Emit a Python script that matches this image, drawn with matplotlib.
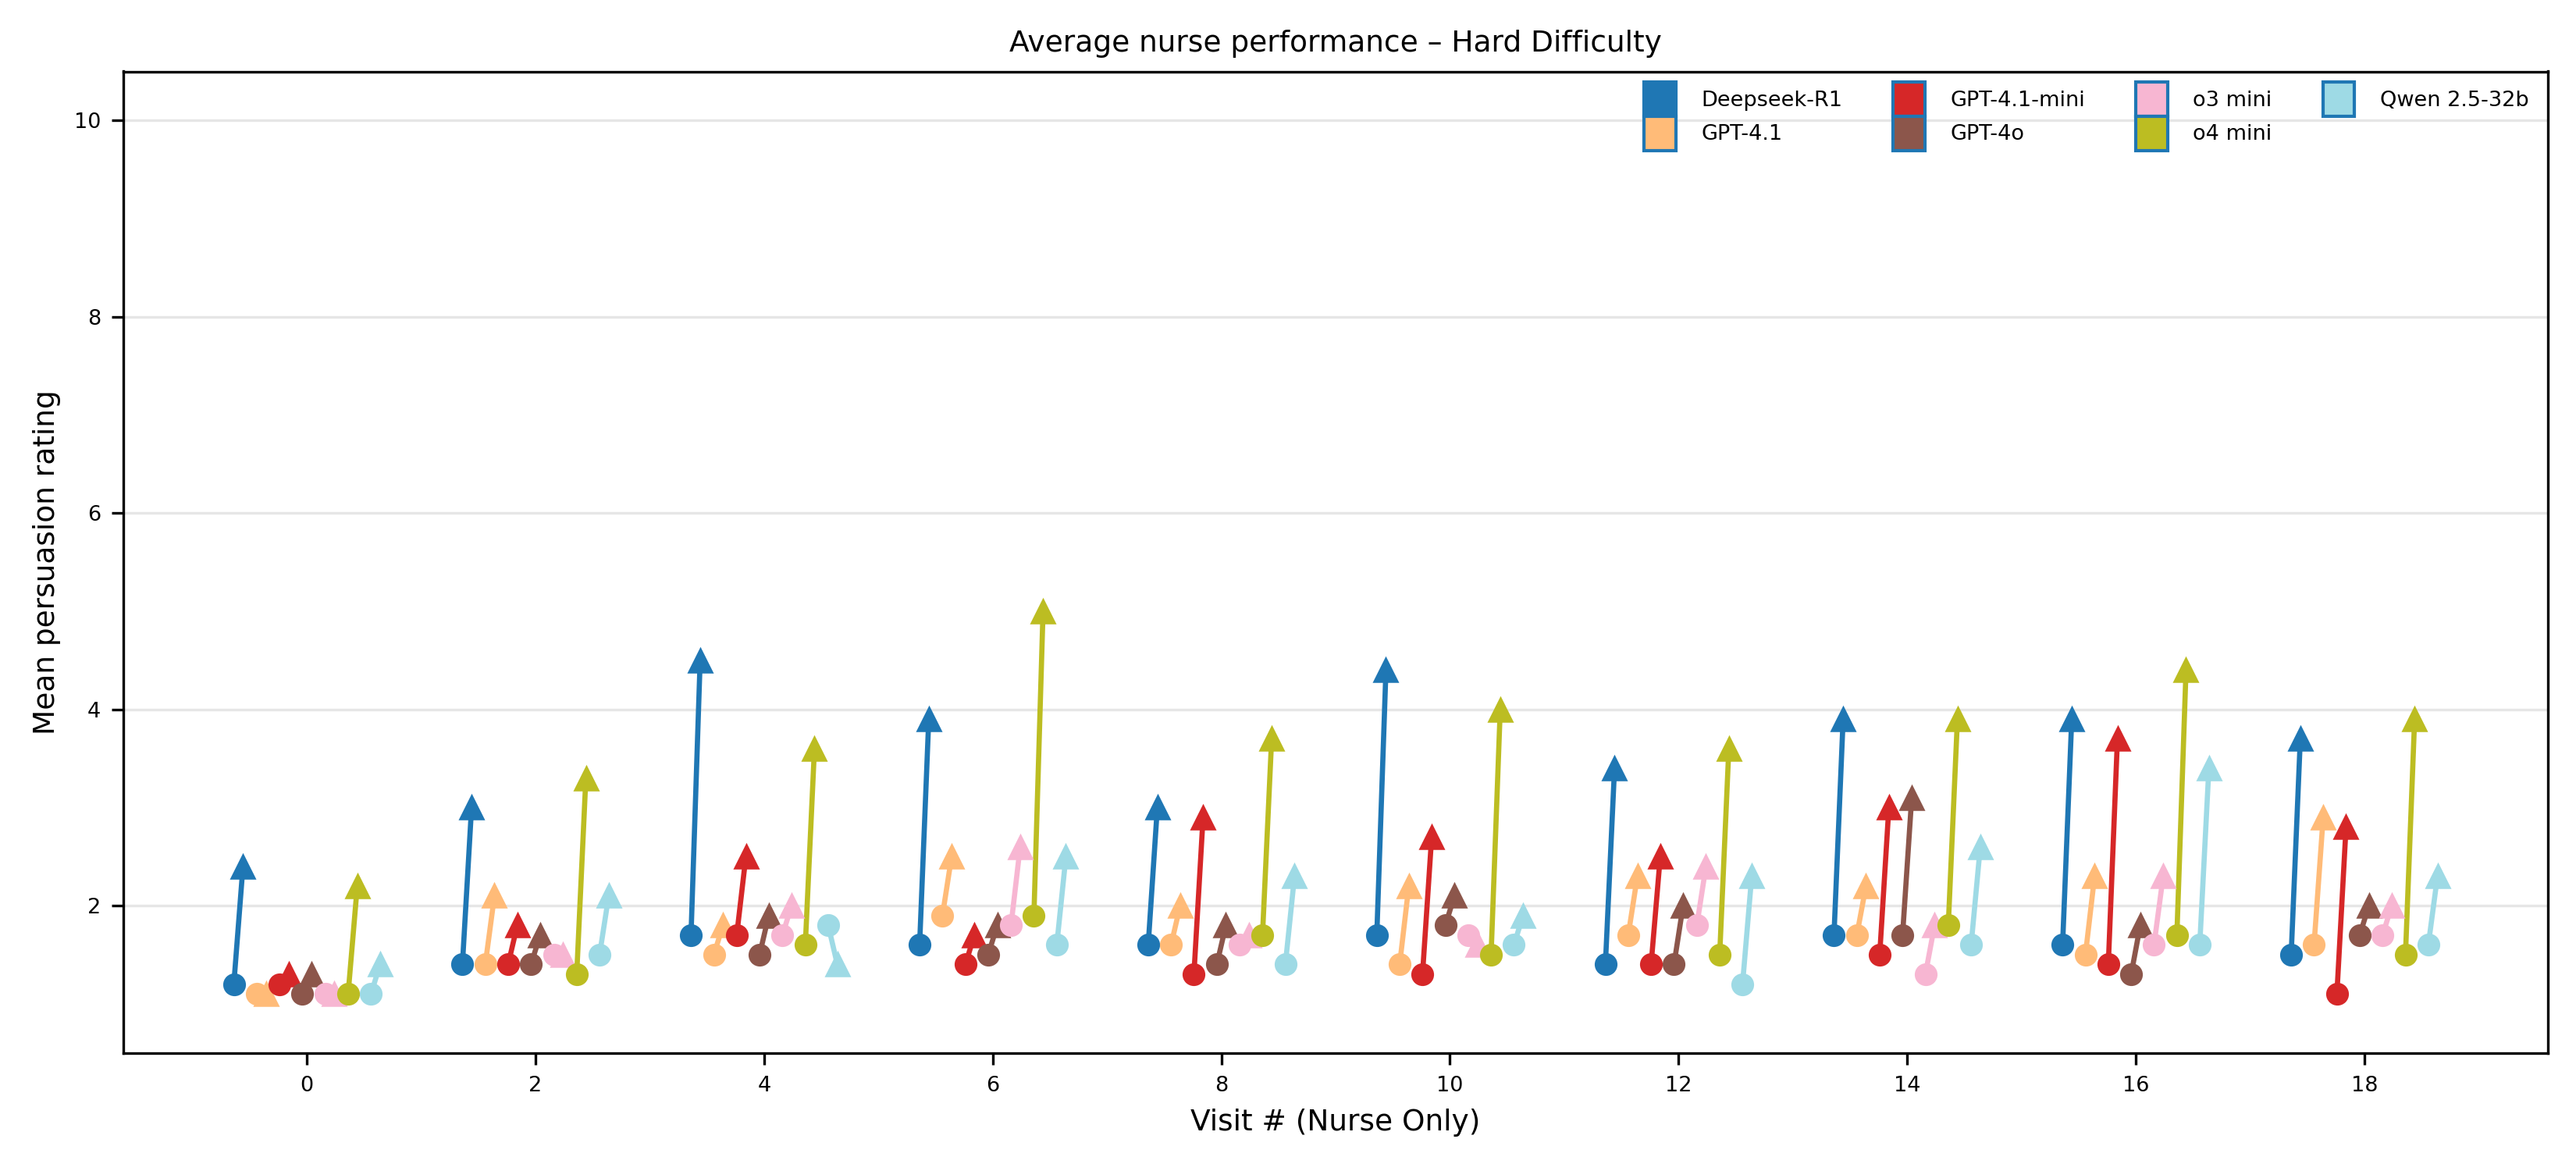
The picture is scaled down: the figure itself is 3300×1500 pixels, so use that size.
import numpy as np
import matplotlib
matplotlib.use("Agg")
import matplotlib.pyplot as plt
from matplotlib.patches import Patch

# visits shown on the x axis
visits = [0, 2, 4, 6, 8, 10, 12, 14, 16, 18]

models = ["Deepseek-R1", "GPT-4.1", "GPT-4.1-mini", "GPT-4o", "o3 mini", "o4 mini", "Qwen 2.5-32b"]

# mean rating before (circle) and after (triangle) the nurse visit
deepseek_before = [1.2, 1.4, 1.7, 1.6, 1.6, 1.7, 1.4, 1.7, 1.6, 1.5]
deepseek_after = [2.4, 3.0, 4.5, 3.9, 3.0, 4.4, 3.4, 3.9, 3.9, 3.7]
gpt41_before = [1.1, 1.4, 1.5, 1.9, 1.6, 1.4, 1.7, 1.7, 1.5, 1.6]
gpt41_after = [1.1, 2.1, 1.8, 2.5, 2.0, 2.2, 2.3, 2.2, 2.3, 2.9]
gpt41mini_before = [1.2, 1.4, 1.7, 1.4, 1.3, 1.3, 1.4, 1.5, 1.4, 1.1]
gpt41mini_after = [1.3, 1.8, 2.5, 1.7, 2.9, 2.7, 2.5, 3.0, 3.7, 2.8]
gpt4o_before = [1.1, 1.4, 1.5, 1.5, 1.4, 1.8, 1.4, 1.7, 1.3, 1.7]
gpt4o_after = [1.3, 1.7, 1.9, 1.8, 1.8, 2.1, 2.0, 3.1, 1.8, 2.0]
o3mini_before = [1.1, 1.5, 1.7, 1.8, 1.6, 1.7, 1.8, 1.3, 1.6, 1.7]
o3mini_after = [1.1, 1.5, 2.0, 2.6, 1.7, 1.6, 2.4, 1.8, 2.3, 2.0]
o4mini_before = [1.1, 1.3, 1.6, 1.9, 1.7, 1.5, 1.5, 1.8, 1.7, 1.5]
o4mini_after = [2.2, 3.3, 3.6, 5.0, 3.7, 4.0, 3.6, 3.9, 4.4, 3.9]
qwen_before = [1.1, 1.5, 1.8, 1.6, 1.4, 1.6, 1.2, 1.6, 1.6, 1.6]
qwen_after = [1.4, 2.1, 1.4, 2.5, 2.3, 1.9, 2.3, 2.6, 3.4, 2.3]

before = [deepseek_before, gpt41_before, gpt41mini_before, gpt4o_before,
          o3mini_before, o4mini_before, qwen_before]
after = [deepseek_after, gpt41_after, gpt41mini_after, gpt4o_after,
         o3mini_after, o4mini_after, qwen_after]

colors = plt.cm.tab20(np.linspace(0, 1, len(models)))

fig = plt.figure(figsize=(11, 5), dpi=300)
ax = fig.add_axes([0.048, 0.101, 0.941, 0.838])

step = 0.2   # spacing between models inside a visit group
shift = 0.04  # before/after points sit either side of the model slot
for i, name in enumerate(models):
    offset = (i - (len(models) - 1) / 2) * step
    x0 = np.array(visits) + offset - shift
    x1 = np.array(visits) + offset + shift
    for k in range(len(visits)):
        ax.plot([x0[k], x1[k]], [before[i][k], after[i][k]], color=colors[i],
                linewidth=1.6, solid_capstyle='butt', zorder=2)
        ax.plot(x0[k], before[i][k], marker='o', markersize=7, color=colors[i],
                markeredgewidth=0, zorder=3)
        ax.plot(x1[k], after[i][k], marker='^', markersize=7, color=colors[i],
                markeredgewidth=0.6, zorder=3)

ax.set_ylim(0.5, 10.5)
ax.set_yticks([2, 4, 6, 8, 10])
ax.set_xticks(visits)
ax.tick_params(labelsize=6.5)
ax.yaxis.grid(True, color='#e6e6e6', linewidth=0.8)
ax.set_axisbelow(True)

ax.set_xlabel('Visit # (Nurse Only)', fontsize=9)
ax.set_ylabel('Mean persuasion rating', fontsize=9)
ax.set_title('Average nurse performance \u2013 Hard Difficulty', fontsize=9)

handles = [Patch(facecolor=colors[i], edgecolor='#1f77b4', linewidth=1.0, label=m)
           for i, m in enumerate(models)]
ax.legend(handles=handles, loc='upper right', bbox_to_anchor=(0.9965, 1.0), ncol=4,
          frameon=False, fontsize=6.5, handlelength=1.5, handleheight=2.12,
          labelspacing=0.0, handletextpad=1.2, columnspacing=2.4, borderaxespad=0.1)

fig.savefig('out.png', dpi=300)
